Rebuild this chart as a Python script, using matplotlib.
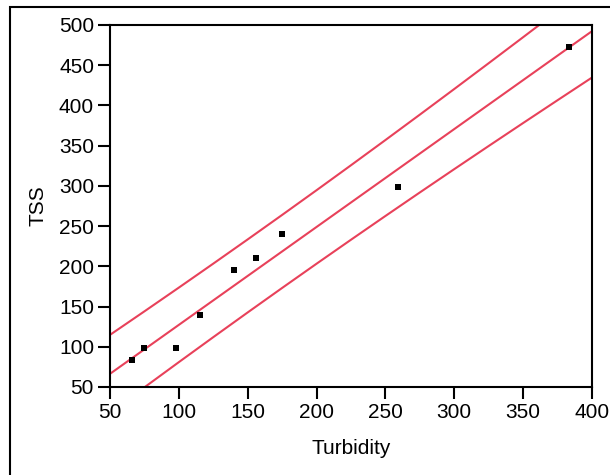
"""TSS vs turbidity with fitted line and 95% prediction band."""

import matplotlib
matplotlib.use("Agg")
import matplotlib.pyplot as plt
import numpy as np
from matplotlib.patches import Rectangle

plt.rcParams["font.family"] = ["Liberation Sans", "DejaVu Sans"]

turbidity = [66, 75, 98, 115, 140, 156, 175, 259, 383]
tss = [83, 98, 98, 140, 195, 210, 240, 298, 473]
x_ticks = [50, 100, 150, 200, 250, 300, 350, 400]
y_ticks = [50, 100, 150, 200, 250, 300, 350, 400, 450, 500]
T_975_DF7 = 2.365  # two-sided 95 %, n - 2 = 7

LINE_COLOR = "#E8415A"

x = np.array(turbidity, dtype=float)
y = np.array(tss, dtype=float)
n = len(x)
slope, intercept = np.polyfit(x, y, 1)
resid = y - (slope * x + intercept)
s = np.sqrt(np.sum(resid ** 2) / (n - 2))
sxx = np.sum((x - x.mean()) ** 2)

xs = np.linspace(50, 400, 15)
fit = slope * xs + intercept
half = T_975_DF7 * s * np.sqrt(1 + 1 / n + (xs - x.mean()) ** 2 / sxx)

fig = plt.figure(figsize=(6.1, 4.75), dpi=100)
ax = fig.add_axes([0.1803, 0.1853, 0.7902, 0.7621])

for curve in (fit + half, fit, fit - half):
    ax.plot(xs, curve, color=LINE_COLOR, linewidth=1.5, zorder=2)
ax.scatter(x, y, marker="s", s=18, color="black", linewidths=0, zorder=3)

ax.set_xlim(50, 400)
ax.set_ylim(50, 500)
ax.set_xticks(x_ticks)
ax.set_yticks(y_ticks)
ax.tick_params(direction="out", length=8.5, width=1.5, labelsize=15, pad=3)
for spine in ax.spines.values():
    spine.set_linewidth(1.5)
ax.set_xlabel("Turbidity", fontsize=15, labelpad=12)
ax.set_ylabel("TSS", fontsize=15, labelpad=8)

# outer frame, cut off at the right and bottom edges
fig.patches.append(Rectangle((10 / 610, -0.2), 1.2, 0.2 + (475 - 7) / 475,
                             transform=fig.transFigure, fill=False,
                             edgecolor="black", linewidth=1.5))

fig.savefig("out.png", dpi=100, facecolor="white")
